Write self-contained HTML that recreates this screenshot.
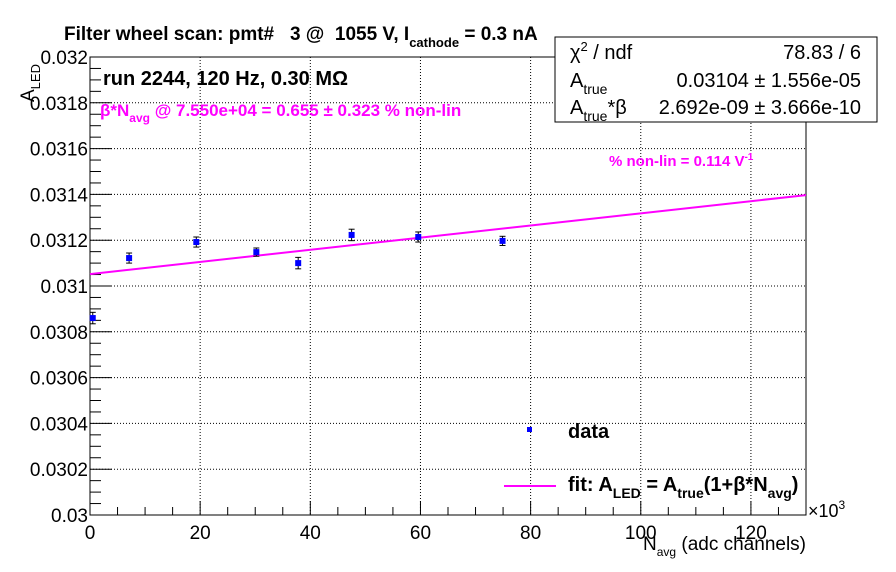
<!DOCTYPE html>
<html><head><meta charset="utf-8"><style>
body{margin:0;background:#fff}
svg{display:block;font-family:"Liberation Sans",sans-serif}
text{white-space:pre}
</style></head><body>
<svg id="c" width="896" height="572" xmlns="http://www.w3.org/2000/svg" xml:space="preserve">
<rect width="896" height="572" fill="#fff"/>
<g id="grid"></g>
<g id="axes"></g>
<g id="marks"></g>
<text x="64" y="40" font-size="19" font-weight="bold">Filter wheel scan: pmt#   3 @  1055 V, I<tspan font-size="13" dy="7">cathode</tspan><tspan dy="-7"> = 0.3 nA</tspan></text>
<text transform="translate(34,102) rotate(-90)" font-size="19">A<tspan font-size="13" dy="6">LED</tspan></text>
<text x="806" y="550" font-size="19" text-anchor="end">N<tspan font-size="12" dy="6">avg</tspan><tspan dy="-6"> (adc channels)</tspan></text>
<text x="808" y="517" font-size="18">×10<tspan font-size="12" dy="-8">3</tspan></text>
<text x="103" y="85" font-size="20" font-weight="bold">run 2244, 120 Hz, 0.30 MΩ</text>
<text x="100" y="116" font-size="17" font-weight="bold" fill="#ff00ff">β*N<tspan font-size="12" dy="6">avg</tspan><tspan dy="-6"> @ 7.550e+04 = 0.655 ± 0.323 % non-lin</tspan></text>
<text x="609" y="166" font-size="15" font-weight="bold" fill="#ff00ff">% non-lin = 0.114 V<tspan font-size="10" dy="-6">-1</tspan></text>
<g>
<rect x="555" y="37" width="322" height="85" fill="#fff" stroke="#000" stroke-width="1"/>
<text x="570" y="59" font-size="20">χ<tspan font-size="13" dy="-8">2</tspan><tspan dy="8"> / ndf</tspan></text>
<text x="861" y="59" font-size="20" text-anchor="end">78.83 / 6</text>
<text x="570" y="87" font-size="20">A<tspan font-size="14" dy="7">true</tspan></text>
<text x="861" y="87" font-size="20" text-anchor="end">0.03104 ± 1.556e-05</text>
<text x="570" y="114" font-size="20">A<tspan font-size="14" dy="7">true</tspan><tspan dy="-7">*β</tspan></text>
<text x="861" y="114" font-size="20" text-anchor="end">2.692e-09 ± 3.666e-10</text>
</g>
<g>
<rect x="527" y="427" width="5" height="5" fill="#0000ff"/>
<text x="568" y="438" font-size="20" font-weight="bold">data</text>
<line x1="504" y1="486" x2="556" y2="486" stroke="#ff00ff" stroke-width="2"/>
<text x="568" y="491" font-size="20" font-weight="bold">fit: A<tspan font-size="14" dy="7">LED</tspan><tspan dy="-7"> = A</tspan><tspan font-size="14" dy="7">true</tspan><tspan dy="-7">(1+β*N</tspan><tspan font-size="14" dy="7">avg</tspan><tspan dy="-7">)</tspan></text>
</g>
</svg>
<script>
const xTicks=[0,20,40,60,80,100,120];
const yTicks=[0.030,0.0302,0.0304,0.0306,0.0308,0.031,0.0312,0.0314,0.0316,0.0318,0.032];
const yTickLabels=["0.03","0.0302","0.0304","0.0306","0.0308","0.031","0.0312","0.0314","0.0316","0.0318","0.032"];
const dataX=[0.5,7.1,19.3,30.2,37.8,47.5,59.6,74.9];
const dataY=[0.03086,0.031122,0.031192,0.031148,0.031100,0.031223,0.031214,0.031197];
const dataErr=[0.000025,0.000022,0.000022,0.000018,0.000025,0.000025,0.000022,0.000020];
const fitX=[0,130];
const fitY=[0.031052,0.031397];
const L=90,R=806,T=57,B=515,XMIN=0,XMAX=130,YMIN=0.030,YMAX=0.032;
const sx=v=>L+(v-XMIN)/(XMAX-XMIN)*(R-L);
const sy=v=>B-(v-YMIN)/(YMAX-YMIN)*(B-T);
const NS="http://www.w3.org/2000/svg";
function mk(p,tag,at){const e=document.createElementNS(NS,tag);for(const k in at)e.setAttribute(k,at[k]);p.appendChild(e);return e;}
const grid=document.getElementById('grid'),axes=document.getElementById('axes'),marks=document.getElementById('marks');
xTicks.forEach((t,i)=>{if(t===0)return;const l=mk(grid,'line',{x1:sx(t),x2:sx(t),y1:T,y2:B,stroke:'#000','stroke-width':1,'stroke-dasharray':'1,2'});

});
yTicks.forEach(t=>{if(t===YMIN||t===YMAX)return;const l=mk(grid,'line',{x1:L,x2:R,y1:sy(t),y2:sy(t),stroke:'#000','stroke-width':1,'stroke-dasharray':'1,2'});

});
const fr=mk(axes,'rect',{x:L,y:T,width:R-L,height:B-T,fill:'none',stroke:'#000','stroke-width':1});


for(let v=0;v<=130;v+=5){const big=v%20===0;mk(axes,'line',{x1:sx(v),x2:sx(v),y1:B,y2:B-(big?14:8),stroke:'#000'});}
for(let i=0;i<=40;i++){const v=YMIN+i*0.00005;const big=i%4===0;mk(axes,'line',{x1:L,x2:L+(big?22:11),y1:sy(v),y2:sy(v),stroke:'#000'});}
xTicks.forEach(t=>{const tx=mk(axes,'text',{x:sx(t),y:B+24,'font-size':19,'text-anchor':'middle'});tx.textContent=t;

});
yTicks.forEach((t,i)=>{const tx=mk(axes,'text',{x:L-2,y:sy(t)+7,'font-size':19,'text-anchor':'end'});tx.textContent=yTickLabels[i];

});
const fl=mk(marks,'line',{x1:sx(fitX[0]),y1:sy(fitY[0]),x2:sx(fitX[1]),y2:sy(fitY[1]),stroke:'#ff00ff','stroke-width':2});


dataX.forEach((x,i)=>{const g=mk(marks,'g',{});


const cx=sx(x),cy=sy(dataY[i]),y1=sy(dataY[i]+dataErr[i]),y2=sy(dataY[i]-dataErr[i]);
mk(g,'line',{x1:cx,x2:cx,y1:y1,y2:y2,stroke:'#000'});
mk(g,'line',{x1:cx-3,x2:cx+3,y1:y1,y2:y1,stroke:'#000'});
mk(g,'line',{x1:cx-3,x2:cx+3,y1:y2,y2:y2,stroke:'#000'});
mk(g,'rect',{x:cx-3,y:cy-3,width:6,height:6,fill:'#0000ff'});});
</script>
</body></html>
